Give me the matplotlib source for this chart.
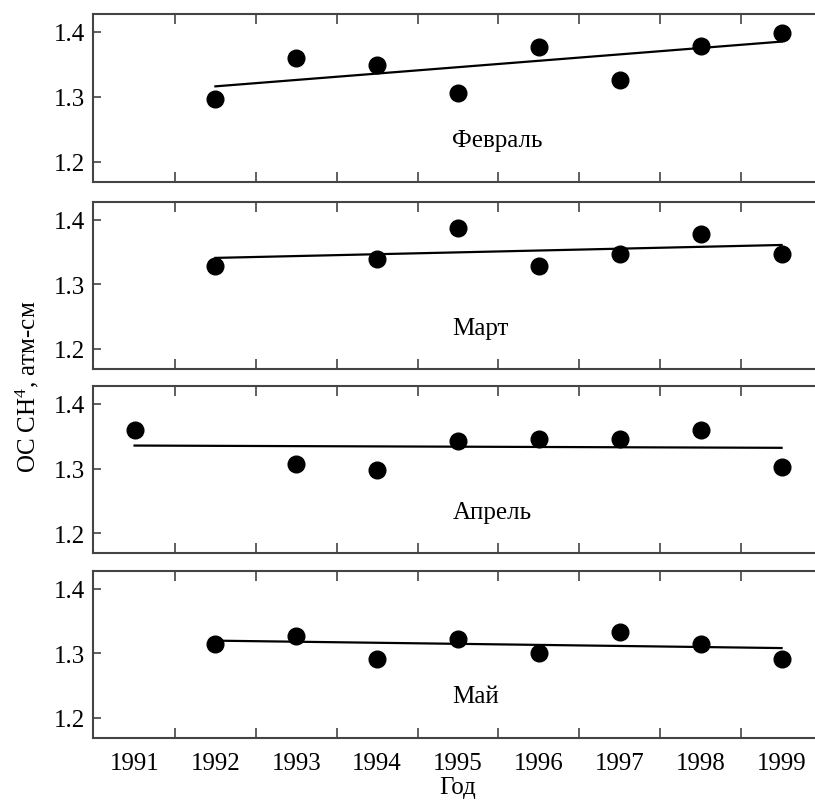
import matplotlib
matplotlib.use("Agg")
import matplotlib.pyplot as plt

plt.rcParams['font.family'] = ['Liberation Serif', 'DejaVu Serif']
plt.rcParams['mathtext.fontset'] = 'custom'
plt.rcParams['mathtext.rm'] = 'Liberation Serif'
plt.rcParams['mathtext.default'] = 'rm'

years = [1991, 1992, 1993, 1994, 1995, 1996, 1997, 1998, 1999]
months = ["Февраль", "Март", "Апрель", "Май"]

feb_x = [1992, 1993, 1994, 1995, 1996, 1997, 1998, 1999]
feb_y = [1.297, 1.359, 1.349, 1.306, 1.377, 1.326, 1.378, 1.398]
mar_x = [1992, 1994, 1995, 1996, 1997, 1998, 1999]
mar_y = [1.329, 1.340, 1.388, 1.328, 1.347, 1.378, 1.347]
apr_x = [1991, 1993, 1994, 1995, 1996, 1997, 1998, 1999]
apr_y = [1.359, 1.307, 1.297, 1.343, 1.346, 1.346, 1.360, 1.302]
may_x = [1992, 1993, 1994, 1995, 1996, 1997, 1998, 1999]
may_y = [1.315, 1.327, 1.291, 1.322, 1.301, 1.333, 1.314, 1.291]

# trend lines (start, end)
feb_trend = ([1992, 1999], [1.316, 1.385])
mar_trend = ([1992, 1999], [1.341, 1.361])
apr_trend = ([1991, 1999], [1.3355, 1.332])
may_trend = ([1992, 1999], [1.3195, 1.308])

series = [(feb_x, feb_y, feb_trend), (mar_x, mar_y, mar_trend),
          (apr_x, apr_y, apr_trend), (may_x, may_y, may_trend)]

W, H = 815, 803
fig = plt.figure(figsize=(W / 100, H / 100), dpi=100)

# panel top/bottom in pixels
panels = [(14.7, 182.7), (202.7, 370.0), (386.7, 554.3), (571.7, 738.7)]
left_px, right_px = 93.3, 822.0

spine_col = "#444444"
for i, ((top, bot), (xs, ys, tr)) in enumerate(zip(panels, series)):
    ax = fig.add_axes([left_px / W, 1 - bot / H, (right_px - left_px) / W, (bot - top) / H])
    ax.plot(tr[0], tr[1], color="black", lw=1.6, zorder=2)
    ax.plot(xs, ys, "o", color="black", ms=12, zorder=3)
    ax.set_xlim(1990.49, 1999.50)
    ax.set_ylim(1.169, 1.428)
    ax.set_yticks([1.2, 1.3, 1.4])
    ax.set_yticklabels(["1.2", "1.3", "1.4"])
    ax.set_xticks([y + 0.5 for y in years[:-1]])
    ax.set_xticklabels([])
    ax.set_xticks(years, minor=True)
    if i == 3:
        ax.set_xticklabels([str(y) for y in years], minor=True)
        ax.set_xlabel("Год", fontsize=18, labelpad=2)
    else:
        ax.set_xticklabels([], minor=True)
    ax.tick_params(axis="x", which="major", direction="in", top=True, bottom=True,
                   length=7, width=1.2, color=spine_col)
    ax.tick_params(axis="x", which="minor", length=0, labelsize=18, pad=10)
    ax.tick_params(axis="y", direction="in", left=True, right=False, length=6,
                   width=1.2, color=spine_col, labelsize=18, pad=6)
    for s in ax.spines.values():
        s.set_color(spine_col)
        s.set_linewidth(1.5)
    ax.spines['right'].set_visible(False)
    ax.text(1994.93, 1.233, months[i], fontsize=18, ha="left", va="center")

fig.text(27 / W, 1 - 387 / H, "ОС CH$^4$, атм-см", rotation=90,
         ha="center", va="center", fontsize=18)

fig.savefig("out.png", dpi=100)
